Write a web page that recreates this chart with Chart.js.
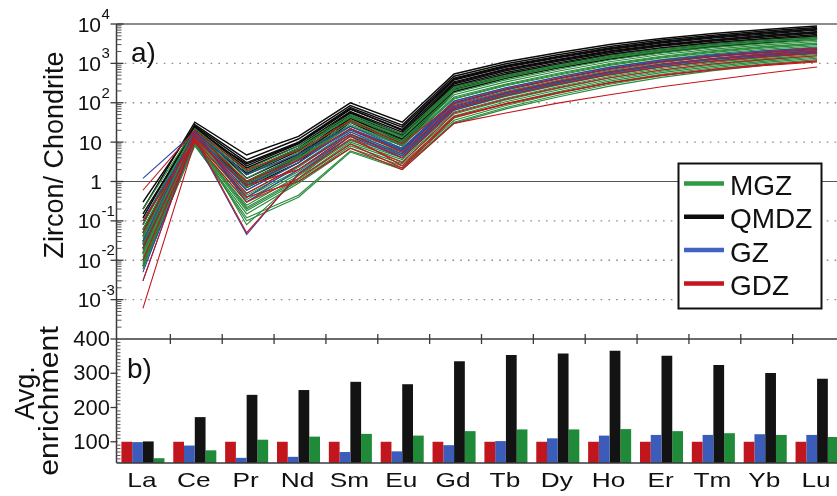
<!DOCTYPE html>
<html>
<head>
<meta charset="utf-8">
<title>Zircon REE patterns</title>
<script src="https://cdn.jsdelivr.net/npm/chart.js@4.4.1/dist/chart.umd.min.js"></script>
<style>
  html, body { margin: 0; padding: 0; background: #fff; overflow: hidden; width: 837px; height: 496px; }
  canvas { position: absolute; left: 0; top: 0; }
</style>
</head>
<body>
<canvas id="ree" width="845" height="496"></canvas>
<canvas id="avg" width="845" height="496"></canvas>
<script>
// Rare earth elements along the x axis
const elements = ['La', 'Ce', 'Pr', 'Nd', 'Sm', 'Eu', 'Gd', 'Tb', 'Dy', 'Ho', 'Er', 'Tm', 'Yb', 'Lu'];

// Panel a: zircon / chondrite ratios, one row per analysed grain
const mgz = [
  [0.2, 22, 2.0, 8, 50, 16, 250, 500, 900, 1550, 2300, 3100, 3900, 4600],
  [0.1, 20, 1.5, 6.5, 42, 13, 210, 440, 800, 1380, 2050, 2800, 3500, 4200],
  [0.06, 18, 1.2, 5.5, 36, 11, 180, 380, 700, 1220, 1850, 2550, 3200, 3900],
  [0.04, 17, 1.0, 4.5, 32, 10, 160, 340, 630, 1100, 1680, 2300, 2950, 3600],
  [0.03, 16, 0.8, 4, 28, 9, 140, 300, 560, 990, 1520, 2100, 2700, 3300],
  [0.02, 15, 0.7, 3.5, 25, 8, 125, 270, 500, 890, 1380, 1900, 2480, 3050],
  [0.015, 14, 0.6, 3, 22, 7, 110, 240, 450, 800, 1250, 1750, 2280, 2800],
  [0.05, 13, 0.5, 2.6, 20, 6.5, 100, 215, 410, 730, 1140, 1600, 2100, 2600],
  [0.01, 12, 0.45, 2.3, 18, 6, 90, 195, 370, 660, 1040, 1470, 1930, 2400],
  [0.008, 11, 0.4, 2, 16, 5.5, 80, 175, 335, 600, 950, 1350, 1780, 2250],
  [0.025, 12, 0.35, 1.8, 14, 5, 72, 160, 305, 550, 870, 1240, 1650, 2100],
  [0.012, 10, 0.3, 1.6, 12, 4.5, 65, 145, 280, 505, 800, 1150, 1530, 1950],
  [0.006, 9, 0.25, 1.4, 11, 4, 58, 130, 255, 465, 740, 1060, 1420, 1800],
  [0.035, 11, 0.22, 1.2, 10, 3.6, 52, 118, 232, 425, 680, 980, 1320, 1680],
  [0.018, 10, 0.2, 1.1, 9, 3.2, 46, 106, 210, 390, 630, 910, 1230, 1560],
  [0.009, 9, 0.18, 1.0, 8, 2.8, 41, 95, 190, 355, 580, 840, 1140, 1450],
  [0.007, 8, 0.15, 0.9, 7, 2.5, 36, 85, 172, 325, 530, 775, 1060, 1350],
  [0.045, 8.5, 0.12, 0.45, 6, 2.2, 32, 76, 155, 295, 485, 715, 980, 1250],
  [0.014, 9.5, 0.1, 0.4, 5.6, 2.0, 30, 70, 140, 265, 440, 655, 900, 1150],
  [0.08, 19, 1.8, 7, 45, 14, 230, 470, 850, 1450, 2150, 2900, 3650, 4300],
  [0.028, 14, 0.08, 1.2, 15, 5, 75, 165, 320, 580, 910, 1300, 1720, 2180],
  [0.016, 13, 0.9, 3.8, 26, 8.5, 130, 285, 530, 940, 1450, 2000, 2600, 3200]
];
const qmdz = [
  [0.2, 32, 4.7, 14, 100, 32, 540, 1100, 1850, 3000, 4300, 5700, 7200, 8900],
  [0.08, 28, 3.6, 12, 85, 27, 470, 980, 1650, 2700, 3900, 5200, 6600, 8200],
  [0.3, 26, 3.0, 10, 75, 24, 420, 880, 1500, 2450, 3600, 4800, 6100, 7600],
  [0.05, 24, 2.5, 9, 68, 21, 380, 800, 1380, 2250, 3300, 4400, 5600, 7000],
  [0.02, 22, 2.2, 8, 60, 18, 340, 720, 1250, 2050, 3000, 4000, 5100, 6400],
  [0.12, 25, 1.8, 7, 55, 16, 300, 650, 1130, 1870, 2750, 3700, 4700, 5900],
  [0.04, 20, 1.5, 6, 50, 14, 270, 590, 1030, 1700, 2500, 3400, 4300, 5400],
  [0.015, 23, 1.2, 5, 45, 12, 250, 540, 950, 1580, 2330, 3150, 4000, 5000],
  [0.06, 18, 1.0, 4.5, 40, 11, 230, 500, 880, 1470, 2180, 2950, 3750, 4700],
  [0.025, 21, 0.8, 3.5, 36, 9, 210, 460, 820, 1380, 2050, 2780, 3550, 4500],
  [0.01, 16, 0.7, 3.0, 32, 8, 190, 420, 760, 1280, 1900, 2600, 3350, 4200],
  [0.15, 19, 2.8, 9.5, 70, 20, 400, 850, 1450, 2400, 3500, 4700, 6000, 7500],
  [0.03, 17, 1.6, 6.5, 58, 15, 320, 700, 1200, 2000, 2900, 3900, 5000, 6300],
  [0.007, 15, 0.9, 4, 42, 10, 220, 480, 850, 1420, 2100, 2850, 3650, 4600]
];
const gz = [
  [1.2, 18, 1.5, 5, 25, 7, 110, 240, 450, 790, 1220, 1650, 2100, 2500],
  [0.1, 15, 0.8, 3.5, 20, 6, 95, 210, 400, 700, 1080, 1480, 1880, 2250],
  [0.005, 12, 0.045, 1.6, 14, 4, 65, 150, 290, 520, 820, 1150, 1500, 1850],
  [0.003, 16, 0.4, 2.5, 18, 5, 80, 180, 345, 615, 960, 1330, 1700, 2050],
  [0.03, 20, 0.3, 2.0, 16, 4.5, 75, 170, 325, 580, 900, 1250, 1600, 1950],
  [0.02, 14, 0.6, 3.0, 22, 6.5, 100, 225, 420, 740, 1140, 1550, 1980, 2350]
];
const gdz = [
  [0.6, 20, 2.0, 6, 35, 9, 100, 220, 410, 720, 1100, 1520, 1950, 2400],
  [0.02, 13, 0.05, 1.5, 12, 3, 55, 125, 240, 430, 680, 960, 1260, 1560],
  [0.003, 15, 0.5, 2.5, 16, 4, 70, 155, 295, 525, 820, 1140, 1480, 1820],
  [0.0006, 10, 0.3, 1.2, 9, 2.2, 42, 92, 178, 318, 505, 710, 930, 1160],
  [0.05, 17, 1.0, 3.5, 22, 5.5, 85, 185, 350, 620, 960, 1330, 1720, 2100],
  [0.01, 12, 0.8, 2.0, 14, 2.5, 45, 95, 180, 320, 490, 680, 880, 1080],
  [0.1, 11, 0.4, 1.0, 7, 2.0, 30, 55, 98, 160, 255, 380, 560, 810]
];

// Panel b: average enrichment relative to GDZ (= 100)
const avgGDZ  = [100, 100, 100, 100, 100, 100, 100, 100, 100, 100, 100, 100, 100, 100];
const avgGZ   = [99, 89, 53, 56, 70, 72, 90, 102, 110, 118, 120, 120, 122, 120];
const avgQMDZ = [101, 172, 237, 251, 275, 268, 335, 353, 358, 366, 351, 324, 301, 284];
const avgMGZ  = [52, 75, 106, 115, 123, 118, 131, 136, 136, 137, 131, 125, 120, 114];

// Axis ticks
const logTickExps = [4, 3, 2, 1, 0, -1, -2, -3];
const avgTicks = [100, 200, 300, 400];

const FONT = '"Liberation Sans", Arial, Helvetica, sans-serif';
const INK = '#111';
const AXIS = '#3a3a3a';
const COLORS = { MGZ: '#2a8b3d', QMDZ: '#0b0b0b', GZ: '#2f43a6', GDZ: '#c3161d' };
const BAR_COLORS = { MGZ: '#1f8a38', QMDZ: '#131313', GZ: '#3b5cb8', GDZ: '#c1161e' };

function text(ctx, s, x, y, o) {
  ctx.save();
  ctx.translate(x, y);
  if (o.rot) ctx.rotate(o.rot);
  ctx.scale(o.sx || 1, 1);
  ctx.font = (o.weight || '') + ' ' + o.size + 'px ' + FONT;
  ctx.fillStyle = o.color || INK;
  ctx.textAlign = o.align || 'left';
  ctx.textBaseline = o.base || 'alphabetic';
  ctx.fillText(s, 0, 0);
  ctx.restore();
}
function hline(ctx, x1, x2, y, color, w, dash) {
  ctx.save();
  ctx.beginPath();
  ctx.strokeStyle = color; ctx.lineWidth = w;
  ctx.setLineDash(dash || []);
  ctx.moveTo(x1, y); ctx.lineTo(x2, y); ctx.stroke();
  ctx.restore();
}
function vline(ctx, x, y1, y2, color, w) {
  ctx.save();
  ctx.beginPath();
  ctx.strokeStyle = color; ctx.lineWidth = w;
  ctx.moveTo(x, y1); ctx.lineTo(x, y2); ctx.stroke();
  ctx.restore();
}

// ---------- panel a: spaghetti plot ----------
function lineSets(rows, name, width) {
  return rows.map(r => ({
    label: name, data: r, borderColor: COLORS[name], borderWidth: width,
    pointRadius: 0, tension: 0, fill: false
  }));
}
const reeDatasets = [].concat(
  lineSets(gdz, 'GDZ', 1.1),
  lineSets(gz, 'GZ', 1.1),
  lineSets(mgz, 'MGZ', 1.15),
  lineSets(qmdz, 'QMDZ', 1.5)
);

const reeDecor = {
  id: 'reeDecor',
  beforeDatasetsDraw(chart) {
    const { ctx, chartArea: a, scales: { y } } = chart;
    logTickExps.forEach(k => {
      const py = y.getPixelForValue(Math.pow(10, k));
      if (k === 0) hline(ctx, a.left, 845, py, '#555', 1.2);
      else if (k < 4) hline(ctx, a.left, 845, py, '#8c8c8c', 1.3, [1.6, 6.2]);
    });
    hline(ctx, a.left, 845, y.getPixelForValue(1e4), '#666', 1.5);
  },
  afterDraw(chart) {
    const { ctx, chartArea: a, scales: { y } } = chart;
    const ax = a.left - 0.5;
    vline(ctx, ax, a.top, a.bottom, AXIS, 1.5);
    for (let k = -4; k < 4; k++) {
      for (let m = 2; m <= 9; m++) {
        const py = y.getPixelForValue(m * Math.pow(10, k));
        hline(ctx, ax, ax + 5, py, '#555', 1);
      }
    }
    logTickExps.forEach(k => {
      const py = y.getPixelForValue(Math.pow(10, k));
      hline(ctx, ax - 6, ax + 7, py, AXIS, 1.3);
      if (k === 0) {
        text(ctx, '1', 102, py + 7.5, { size: 21, align: 'right' });
      } else if (k === 1) {
        text(ctx, '10', 102, py + 7.5, { size: 21, align: 'right' });
      } else {
        text(ctx, '10', 101, py + 7.5, { size: 21, align: 'right' });
        text(ctx, String(k), 101.5, py - 5, { size: 15, align: 'left' });
      }
    });
    text(ctx, 'Zircon/ Chondrite', 63, 155, { size: 27, align: 'center', rot: -Math.PI / 2 });
    text(ctx, 'a)', 131, 62, { size: 28 });

    // legend
    const L = { x: 678, y: 163, w: 144, h: 146 };
    ctx.save();
    ctx.fillStyle = '#fff';
    ctx.fillRect(L.x, L.y, L.w, L.h);
    ctx.strokeStyle = '#111'; ctx.lineWidth = 2;
    ctx.strokeRect(L.x + 0.5, L.y + 0.5, L.w - 1, L.h - 1);
    ctx.restore();
    const legendItems = [['MGZ', '#2e9a45'], ['QMDZ', '#0b0b0b'], ['GZ', '#4163c2'], ['GDZ', '#c3161d']];
    legendItems.forEach((it, i) => {
      const ly = 183.5 + i * 33.3;
      hline(ctx, 684, 724, ly, it[1], 4.5);
      text(ctx, it[0], 730, ly + 11.5, { size: 28 });
    });
  }
};

new Chart(document.getElementById('ree'), {
  type: 'line',
  data: { labels: elements, datasets: reeDatasets },
  options: {
    responsive: false, animation: false, events: [],
    layout: { padding: { left: 117, right: 2, top: 24, bottom: 157 } },
    plugins: { legend: { display: false }, tooltip: { enabled: false } },
    scales: {
      x: { type: 'category', offset: true, display: false },
      y: { type: 'logarithmic', min: 1e-4, max: 1e4, display: false }
    }
  },
  plugins: [reeDecor]
});

// ---------- panel b: average enrichment bars ----------
const AVG_MIN = 38, AVG_MAX = 400;
const avgDecor = {
  id: 'avgDecor',
  afterDraw(chart) {
    const { ctx, chartArea: a, scales: { x, y } } = chart;
    const ax = a.left - 0.5;
    hline(ctx, ax, 845, a.top, AXIS, 1.5);
    hline(ctx, ax, 845, a.bottom, AXIS, 1.5);
    vline(ctx, ax, a.top, a.bottom, AXIS, 1.5);
    for (let i = 0; i < elements.length - 1; i++) {
      const bx = (x.getPixelForValue(i) + x.getPixelForValue(i + 1)) / 2 + 1.5;
      vline(ctx, bx, a.top - 5, a.top + 5, AXIS, 1.3);
    }
    for (let v = 40; v < AVG_MAX; v += 10) {
      if (v % 100 === 0) continue;
      hline(ctx, ax, ax + 4, y.getPixelForValue(v), '#555', 1);
    }
    avgTicks.forEach(v => {
      const py = y.getPixelForValue(v);
      hline(ctx, ax - 6, ax + 1, py, AXIS, 1.3);
      text(ctx, String(v), 110, py + 1, { size: 22, align: 'right', base: 'middle' });
    });
    elements.forEach((el, i) => {
      text(ctx, el, x.getPixelForValue(i) - 1, 487, { size: 21, align: 'center', sx: 1.25 });
    });
    text(ctx, 'Avg.', 34, 393, { size: 27, align: 'center', rot: -Math.PI / 2 });
    text(ctx, 'enrichment', 57.5, 401, { size: 27, align: 'center', rot: -Math.PI / 2, sx: 1.12 });
    text(ctx, 'b)', 127, 378, { size: 28 });
  }
};

function barSet(name, values) {
  return {
    label: name, data: values, backgroundColor: BAR_COLORS[name], borderWidth: 0,
    base: AVG_MIN, categoryPercentage: 0.83, barPercentage: 1.0
  };
}

new Chart(document.getElementById('avg'), {
  type: 'bar',
  data: {
    labels: elements,
    datasets: [
      barSet('GDZ', avgGDZ),
      barSet('GZ', avgGZ),
      barSet('QMDZ', avgQMDZ),
      barSet('MGZ', avgMGZ)
    ]
  },
  options: {
    responsive: false, animation: false, events: [],
    layout: { padding: { left: 117, right: 2, top: 339, bottom: 33 } },
    plugins: { legend: { display: false }, tooltip: { enabled: false } },
    scales: {
      x: { type: 'category', offset: true, display: false },
      y: { type: 'linear', min: AVG_MIN, max: AVG_MAX, display: false }
    }
  },
  plugins: [avgDecor]
});
</script>
</body>
</html>
